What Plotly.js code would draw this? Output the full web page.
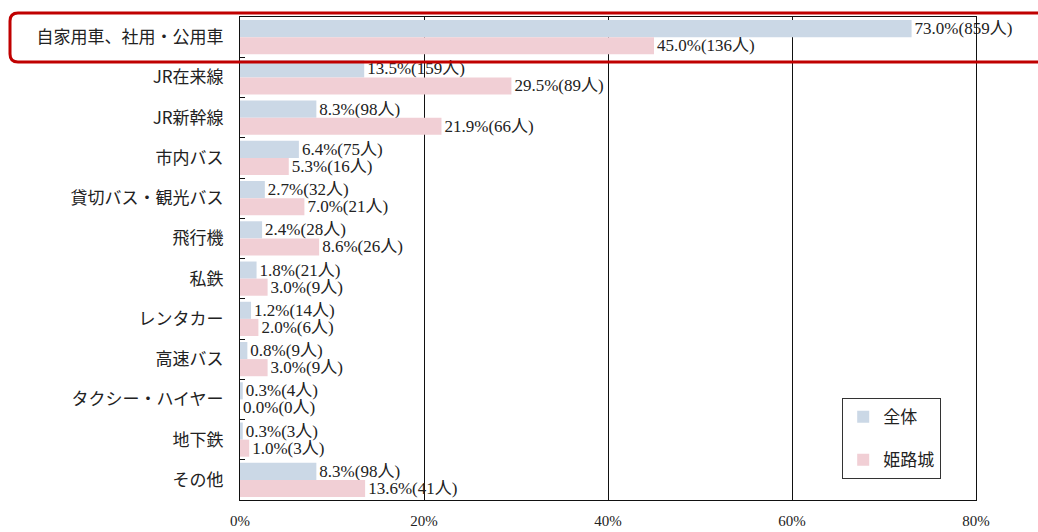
<!DOCTYPE html>
<html>
<head>
<meta charset="utf-8">
<script src="https://cdn.plot.ly/plotly-3.0.1.min.js"></script>
<style>html,body{margin:0;padding:0;background:#fff;}#chart{width:1038px;height:532px;}</style>
</head>
<body>
<div id="chart"></div>
<script>
const categories = ["自家用車、社用・公用車","JR在来線","JR新幹線","市内バス","貸切バス・観光バス","飛行機","私鉄","レンタカー","高速バス","タクシー・ハイヤー","地下鉄","その他"];
const allPct    = [73.0, 13.5, 8.3, 6.4, 2.7, 2.4, 1.8, 1.2, 0.8, 0.3, 0.3, 8.3];
const allCount  = [859, 159, 98, 75, 32, 28, 21, 14, 9, 4, 3, 98];
const himejiPct   = [45.0, 29.5, 21.9, 5.3, 7.0, 8.6, 3.0, 2.0, 3.0, 0.0, 1.0, 13.6];
const himejiCount = [136, 89, 66, 16, 21, 26, 9, 6, 9, 0, 3, 41];
const seriesNames = ["全体", "姫路城"];
const xTicks = [0, 20, 40, 60, 80];
const xTickText = ["0%", "20%", "40%", "60%", "80%"];

const labelFont = {family: "Liberation Serif, Noto Sans CJK JP, serif", size: 17, color: "#222"};
function mkText(p, c){ return p.map((v,i)=> v.toFixed(1) + "%(" + c[i] + "人)"); }

const traces = [
  {type:"bar", orientation:"h", name:seriesNames[0], legendgroup:"a", y:categories, x:allPct,
   text:mkText(allPct, allCount), textposition:"outside", cliponaxis:false, constraintext:"none",
   textfont:labelFont, marker:{color:"#cbd8e6"}, hoverinfo:"none"},
  {type:"bar", orientation:"h", name:seriesNames[1], legendgroup:"b", y:categories, x:himejiPct,
   text:mkText(himejiPct, himejiCount), textposition:"outside", cliponaxis:false, constraintext:"none",
   textfont:labelFont, marker:{color:"#f1cfd5"}, hoverinfo:"none"}
];

// red rounded highlight box (paper coords)
const L=240, T=17, W=736, H=483;
const px = v => (v-L)/W, py = v => (T+H-v)/H;
const x0=px(10), x1=px(1050), yt=py(13), yb=py(62), rx=8/W, ry=8/H;
const path = `M ${x0+rx},${yt} L ${x1},${yt} L ${x1},${yb} L ${x0+rx},${yb} Q ${x0},${yb} ${x0},${yb+ry} L ${x0},${yt-ry} Q ${x0},${yt} ${x0+rx},${yt} Z`;

const layout = {
  width:1038, height:532,
  margin:{l:240, r:62, t:17, b:32},
  paper_bgcolor:"#fff", plot_bgcolor:"#fff",
  barmode:"group", bargap:0.15, bargroupgap:0,
  showlegend:true,
  legend:{x:px(842), y:py(398), xanchor:"left", yanchor:"top", bgcolor:"#fff",
          bordercolor:"#333", borderwidth:1.2, traceorder:"grouped", tracegroupgap:18,
          font:{family:"Noto Sans CJK JP", size:17, color:"#222"}},
  xaxis:{range:[0,80], tickmode:"array", tickvals:xTicks, ticktext:xTickText, showgrid:true, gridcolor:"#111", gridwidth:1,
         zeroline:false, showline:true, linecolor:"#111", linewidth:1, mirror:true, ticks:"",
         ticklabelstandoff:7, fixedrange:true,
         tickfont:{family:"Liberation Serif, serif", size:15, color:"#222"}},
  yaxis:{autorange:"reversed", type:"category", showline:true, linecolor:"#111", linewidth:1, mirror:true,
         ticks:"inside", tickson:"boundaries", ticklen:5, tickcolor:"#111", showgrid:false,
         automargin:false, ticklabelstandoff:12, fixedrange:true,
         tickfont:{family:"Noto Sans CJK JP", size:17, color:"#222"}},
  shapes:[{type:"path", xref:"paper", yref:"paper", path:path, line:{color:"#c00000", width:3}, fillcolor:"rgba(0,0,0,0)"}]
};

Plotly.newPlot("chart", traces, layout, {staticPlot:true, displayModeBar:false});
</script>
</body>
</html>
